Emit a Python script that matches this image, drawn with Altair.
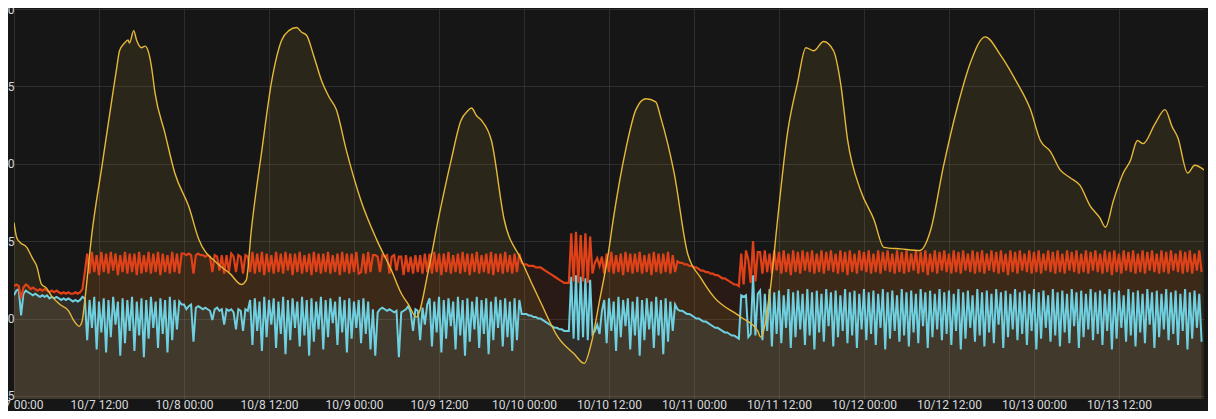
import altair as alt
import pandas as pd

# ---------------- data ----------------
BASE = "2017-10-07 00:00:00"          # left edge of the time axis
STEP_H = 1.0 / 3.0                    # red / cyan samples every 20 minutes
END_H = 168.0                         # right edge: 10/14 00:00

# yellow series: hours since 10/7 00:00 and value
yellow_hours = [0, 0.4, 0.9, 1.8, 2.6, 3.2, 3.9, 4.5, 5.4, 6.5, 7.7, 8.4, 9.2, 9.6, 10.0, 11.0,
                12.4, 13.8, 14.5, 14.9, 15.6, 16.1, 16.3, 16.9, 17.3, 18.0, 18.5, 19.0, 19.4, 19.9,
                21.3, 22.7, 24.7, 26.1, 28.6, 30.5, 32.1, 32.8, 33.5, 35.0, 36.4, 37.8, 38.8, 39.9,
                40.6, 41.3, 42.3, 43.4, 44.5, 45.5, 46.9, 49.0, 51.2, 53.3, 54.7, 55.7, 56.8, 58.5,
                59.9, 61.7, 63.1, 64.0, 64.6, 65.3, 66.0, 67.4, 69.2, 71.6, 74.4, 76.8, 79.1, 80.5,
                81.5, 82.6, 83.9, 84.6, 86.4, 87.8, 89.2, 90.6, 91.3, 93.2, 95.1, 97.0, 98.8, 102.6,
                105.0, 105.4, 106.8, 107.8, 109.2, 110.6, 111.8, 112.9, 114.3, 115.7, 116.7, 117.7,
                119.5, 121.4, 122.8, 125.2, 127.9, 129.4, 131.2, 133.2, 135.0, 137.1, 139.3, 141.4,
                143.5, 144.9, 146.3, 147.7, 149.1, 150.5, 151.9, 153.3, 154.1, 155.2, 156.6, 157.6,
                158.6, 159.4, 161.1, 162.5, 163.5, 164.3, 165.7, 166.7, 168.0]
yellow_values = [16.2, 15.2, 14.9, 14.6, 13.9, 13.4, 12.2, 12.0, 11.4, 10.9, 10.5, 9.9, 9.5, 9.8, 11.2, 15.5,
                 19.8, 24.1, 26.2, 27.3, 27.8, 28.0, 27.8, 28.6, 28.0, 27.5, 27.6, 27.2, 26.3, 24.6,
                 22.0, 19.4, 17.2, 15.1, 13.6, 12.9, 12.2, 12.5, 15.7, 20.9, 25.4, 28.0, 28.6, 28.8,
                 28.5, 28.3, 27.0, 25.4, 24.3, 23.5, 20.9, 17.6, 15.1, 13.1, 11.6, 10.9, 10.1, 13.1,
                 16.4, 20.2, 22.8, 23.4, 23.6, 23.1, 22.8, 21.5, 16.4, 13.8, 11.0, 8.8, 7.7, 7.1,
                 8.4, 11.0, 14.2, 16.4, 21.0, 23.5, 24.2, 24.0, 23.0, 19.4, 14.2, 12.6, 11.4, 10.1,
                 9.2, 8.8, 12.0, 16.4, 22.0, 25.2, 27.5, 27.3, 27.9, 27.3, 25.2, 21.5,
                 18.3, 16.4, 14.6, 14.5, 14.4, 15.7, 19.8, 23.7, 26.5, 28.2, 27.0, 25.4,
                 23.5, 21.5, 20.8, 19.6, 19.1, 18.6, 17.3, 16.5, 15.9, 17.6, 19.4, 20.2,
                 21.5, 21.3, 22.6, 23.5, 22.4, 21.7, 19.4, 19.9, 19.6]

# segment start hours shared by the red and cyan series (20-minute samples inside each)
seg_starts = [0, 10, 23.67, 33.33, 50.67, 58.67, 72, 78.67, 82, 83.33, 93.67, 102.67, 105.33]

red_a = [12.1, 12.2, 12.1, 11.3, 12.0, 12.2, 12.1, 11.9, 12.0, 11.9, 11.8, 11.9, 11.8, 11.9, 11.8,
         11.7, 11.8, 11.7, 11.8, 11.7, 11.6, 11.7, 11.6, 11.7, 11.6, 11.6, 11.7, 11.6, 11.7, 11.9]
red_b = [13.0, 14.2, 12.9, 14.3, 13.0, 14.1, 12.8, 14.3, 13.0, 14.2, 12.9, 14.3, 13.1, 14.2, 12.8,
         14.1, 13.0, 14.3, 12.9, 14.2, 13.0, 14.2, 12.8, 14.3, 12.9, 14.1, 13.0, 14.3, 12.9, 14.2,
         13.0, 14.3, 12.8, 14.2, 13.0, 14.1, 12.9, 14.3, 13.0, 14.2, 12.9]
red_c = [14.2, 14.2, 14.1, 14.2, 14.1, 12.9, 14.1, 14.2, 14.1, 14.1, 14.0, 14.1, 14.0, 13.0, 14.1,
         14.0, 13.1, 14.1, 12.9, 14.1, 13.0, 14.2, 14.0, 13.0, 14.1, 14.0, 12.9, 14.1, 14.0]
red_d = [13.0, 14.3, 12.9, 14.2, 13.0, 14.3, 12.8, 14.2, 13.0, 14.1, 12.9, 14.3, 13.0, 14.2, 12.9,
         14.3, 13.1, 14.2, 12.8, 14.2, 13.0, 14.3, 12.9, 14.1, 13.0, 14.2, 12.8, 14.3, 13.0, 14.2,
         12.9, 14.2, 13.0, 14.3, 12.9, 14.1, 13.0, 14.2, 12.8, 14.3, 13.0, 14.2, 12.9, 14.2, 13.0,
         14.3, 12.9, 13.0, 14.2, 12.9, 14.3, 13.0]
red_e = [14.1, 14.1, 14.0, 13.0, 14.1, 14.0, 14.1, 12.9, 14.0, 14.1, 13.1, 14.0, 14.0, 12.8, 14.1,
         13.0, 14.0, 12.9, 14.1, 13.0, 14.1, 12.9, 14.2, 13.0]
red_f = [14.2, 12.9, 14.3, 13.0, 14.2, 12.8, 14.2, 13.0, 14.3, 12.9, 14.1, 13.0, 14.2, 12.9, 14.3,
         13.0, 14.2, 12.8, 14.2, 13.0, 14.3, 12.9, 14.1, 13.0, 14.2, 12.9, 14.3, 12.8, 14.2, 13.0,
         14.2, 12.9, 14.3, 13.0, 14.1, 12.9, 14.2, 13.0, 14.2, 13.6]
red_g = [13.5, 13.5, 13.4, 13.4, 13.4, 13.3, 13.3, 13.3, 13.2, 13.1, 13.0, 12.9, 12.8, 12.7, 12.6,
         12.5, 12.4, 12.3, 12.3, 12.3]
red_h = [15.5, 12.4, 15.6, 12.3, 15.4, 12.4, 15.5, 12.3, 15.3, 12.9]
red_i = [13.6, 13.9, 13.4, 14.0]
red_j = [12.9, 14.2, 13.0, 14.3, 12.9, 14.1, 13.0, 14.2, 12.8, 14.3, 13.0, 14.2, 12.9, 14.2, 13.0,
         14.3, 12.9, 14.1, 13.0, 14.2, 12.8, 14.3, 13.0, 14.2, 12.9, 14.2, 13.0, 14.3, 12.9, 14.1, 13.0]
red_k = [13.7, 13.6, 13.6, 13.5, 13.5, 13.4, 13.4, 13.3, 13.3, 13.2, 13.1, 13.1, 13.0, 13.0, 12.9,
         12.9, 12.8, 12.8, 12.7, 12.6, 12.6, 12.5, 12.4, 12.3, 12.2, 12.2, 12.1]
red_l = [14.2, 12.2, 14.4, 13.8, 12.3, 15.0, 12.4, 14.3]
red_m = [14.3, 12.9, 14.4, 13.0, 14.2, 12.9, 14.4, 13.1, 14.3, 12.9, 14.4, 13.0, 14.2, 12.8, 14.4, 13.0, 14.3, 12.9, 14.4, 13.1,
         14.3, 13.0, 14.4, 12.9, 14.2, 13.0, 14.4, 12.9, 14.3, 13.1, 14.4, 13.0, 14.2, 12.9, 14.4, 13.0, 14.3, 12.8, 14.4, 13.0,
         14.2, 12.9, 14.4, 13.1, 14.3, 13.0, 14.4, 12.9, 14.2, 13.0, 14.4, 12.9, 14.3, 13.1, 14.4, 13.0, 14.2, 12.9, 14.4, 13.0,
         14.3, 12.9, 14.4, 13.0, 14.2, 13.1, 14.4, 12.9, 14.3, 13.0, 14.4, 12.8, 14.2, 13.0, 14.4, 12.9, 14.3, 13.1, 14.4, 13.0,
         14.2, 12.9, 14.4, 13.0, 14.3, 12.9, 14.4, 13.1, 14.2, 13.0, 14.4, 12.9, 14.3, 13.0, 14.4, 12.9, 14.2, 13.1, 14.4, 13.0,
         14.3, 12.9, 14.4, 13.0, 14.2, 12.8, 14.4, 13.0, 14.3, 12.9, 14.4, 13.1, 14.2, 13.0, 14.4, 12.9, 14.3, 13.0, 14.4, 12.9,
         14.2, 13.1, 14.4, 13.0, 14.3, 12.9, 14.4, 13.0, 14.2, 12.9, 14.4, 13.1, 14.3, 13.0, 14.4, 12.9, 14.2, 13.0, 14.4, 12.9,
         14.3, 13.1, 14.4, 13.0, 14.2, 12.9, 14.4, 13.0, 14.3, 12.8, 14.4, 13.0, 14.2, 12.9, 14.4, 13.1, 14.3, 13.0, 14.4, 12.9,
         14.2, 13.0, 14.4, 12.9, 14.3, 13.1, 14.4, 13.0, 14.2, 12.9, 14.4, 13.0, 14.3, 12.9, 14.4, 13.1, 14.2, 13.0, 14.4, 12.9,
         14.3, 13.0, 14.4, 12.9, 14.2, 13.1, 14.4, 13.0]

cyan_a = [11.5, 11.8, 11.9, 10.2, 11.6, 11.8, 11.7, 11.6, 11.5, 11.6, 11.5, 11.4, 11.5, 11.4, 11.5,
          11.3, 11.4, 11.3, 11.4, 11.3, 11.2, 11.3, 11.2, 11.3, 11.2, 11.1, 11.2, 11.1, 11.2, 11.4]
cyan_b = [11.3, 8.6, 11.2, 9.4, 11.4, 8.0, 11.1, 9.1, 11.3, 7.8, 11.2, 8.8, 11.4, 9.6, 11.1, 7.6,
          11.3, 8.4, 11.2, 9.2, 11.4, 7.9, 11.1, 8.9, 11.3, 7.5, 11.2, 8.7, 11.4, 9.4, 11.1, 8.1,
          11.3, 9.0, 11.2, 7.8, 11.4, 8.6, 11.2, 9.3, 11.1]
cyan_c = [10.9, 10.9, 10.6, 10.8, 10.9, 8.5, 10.7, 10.8, 10.7, 10.6, 10.7, 10.6, 10.5, 9.9, 10.6,
          10.7, 10.5, 10.6, 9.6, 10.6, 10.5, 10.6, 10.4, 9.3, 10.6, 10.5, 9.2, 10.6, 10.5]
cyan_d = [11.2, 8.3, 11.3, 9.2, 11.1, 7.9, 11.4, 8.8, 11.2, 9.6, 11.3, 8.1, 11.1, 9.0, 11.4, 7.7,
          11.2, 8.6, 11.3, 9.4, 11.1, 8.2, 11.4, 8.9, 11.2, 7.6, 11.3, 8.5, 11.1, 9.3, 11.4, 8.0,
          11.2, 8.8, 11.3, 9.7, 11.1, 8.3, 11.4, 9.1, 11.2, 7.8, 11.3, 8.7, 11.1, 9.4, 11.2, 8.4,
          11.3, 9.0, 11.1, 8.0]
cyan_e = [10.6, 7.6, 10.4, 10.6, 10.7, 10.6, 10.5, 10.6, 10.5, 10.4, 10.5, 7.5, 10.4, 10.5, 10.6,
          10.8, 10.4, 9.2, 10.6, 10.5, 8.6, 10.7, 9.6, 10.9]
cyan_f = [11.3, 8.2, 11.1, 9.1, 11.4, 7.8, 11.2, 8.7, 11.3, 9.5, 11.1, 8.0, 11.4, 8.9, 11.2, 7.6,
          11.3, 8.5, 11.1, 9.3, 11.4, 8.1, 11.2, 9.0, 11.3, 7.7, 11.1, 8.6, 11.4, 9.4, 11.2, 8.2,
          11.3, 8.8, 11.1, 7.9, 11.3, 8.6, 11.2, 10.3]
cyan_g = [10.3, 10.3, 10.2, 10.2, 10.1, 10.1, 10.0, 10.0, 9.9, 9.8, 9.7, 9.6, 9.5, 9.4, 9.4,
          9.3, 9.3, 9.2, 9.2, 9.2]
cyan_h = [12.7, 8.7, 12.8, 8.6, 12.7, 8.8, 12.6, 8.6, 12.5, 9.0]
cyan_i = [9.2, 9.6, 9.0, 10.5]
cyan_j = [11.2, 8.4, 11.3, 9.2, 11.1, 7.9, 11.4, 8.8, 11.2, 9.5, 11.3, 8.0, 11.1, 8.9, 11.4, 7.6,
          11.2, 8.6, 11.3, 9.3, 11.1, 8.1, 11.4, 8.9, 11.2, 7.7, 11.3, 8.5, 11.1, 9.2, 10.9]
cyan_k = [10.6, 10.5, 10.5, 10.4, 10.3, 10.3, 10.2, 10.1, 10.0, 10.0, 9.9, 9.8, 9.8, 9.7, 9.6,
          9.5, 9.4, 9.4, 9.3, 9.2, 9.1, 9.1, 9.0, 8.9, 8.9, 8.8, 8.7]
cyan_l = [11.5, 11.4, 11.5, 8.8, 9.0, 12.8, 8.9, 11.6]
cyan_m = [11.8, 8.6, 11.6, 9.2, 11.9, 8.2, 11.7, 9.0, 11.8, 8.4, 11.5, 9.4, 11.9, 8.1, 11.7, 8.8, 11.8, 9.3, 11.6, 8.3,
          11.9, 8.9, 11.7, 8.0, 11.8, 9.1, 11.6, 8.5, 11.9, 9.5, 11.7, 8.2, 11.8, 8.8, 11.5, 9.2, 11.9, 8.4, 11.7, 8.9,
          11.8, 8.1, 11.6, 9.3, 11.9, 8.6, 11.7, 9.0, 11.8, 8.3, 11.6, 9.4, 11.9, 8.0, 11.7, 8.7, 11.8, 9.2, 11.5, 8.5,
          11.9, 8.9, 11.7, 8.2, 11.8, 9.1, 11.6, 8.4, 11.9, 9.5, 11.7, 8.1, 11.8, 8.8, 11.6, 9.3, 11.9, 8.6, 11.7, 9.0,
          11.8, 8.3, 11.6, 9.2, 11.9, 8.0, 11.7, 8.7, 11.8, 9.4, 11.5, 8.5, 11.9, 8.9, 11.7, 8.2, 11.8, 9.1, 11.6, 8.4,
          11.9, 9.6, 11.7, 8.1, 11.8, 8.8, 11.6, 9.3, 11.9, 8.6, 11.7, 9.0, 11.8, 8.3, 11.6, 9.2, 11.9, 8.0, 11.7, 8.7,
          11.8, 9.4, 11.5, 8.5, 11.9, 8.9, 11.7, 8.2, 11.8, 9.1, 11.6, 8.4, 11.9, 9.5, 11.7, 8.1, 11.8, 8.8, 11.6, 9.3,
          11.9, 8.6, 11.7, 9.0, 11.8, 8.3, 11.6, 9.2, 11.9, 8.0, 11.7, 8.7, 11.8, 9.4, 11.5, 8.5, 11.9, 8.9, 11.7, 8.2,
          11.8, 9.1, 11.6, 8.4, 11.9, 9.6, 11.7, 8.1, 11.8, 8.8, 11.6, 9.3, 11.9, 8.6, 11.7, 9.0, 11.8, 8.3, 11.6, 9.2,
          11.9, 8.0, 11.7, 8.7, 11.8, 9.4, 11.6, 8.5]

red_segments = [red_a, red_b, red_c, red_d, red_e, red_f, red_g, red_h, red_i, red_j, red_k, red_l, red_m]
cyan_segments = [cyan_a, cyan_b, cyan_c, cyan_d, cyan_e, cyan_f, cyan_g, cyan_h, cyan_i, cyan_j, cyan_k, cyan_l, cyan_m]

tick_hours = list(range(0, 168, 12))      # 10/7 00:00 ... 10/13 12:00
y_ticks = [5, 10, 15, 20, 25, 30]

YELLOW = "#E6B83A"
RED = "#DF4118"
CYAN = "#6ED0E0"

# ---------------- helpers ----------------
base_ts = pd.Timestamp(BASE)


def to_iso(hours):
    return (base_ts + pd.to_timedelta(pd.Series(hours, dtype=float), unit="h")).dt.strftime("%Y-%m-%dT%H:%M:%S")


def segmented(starts, segments):
    hrs, vals = [], []
    for k, (s, seg) in enumerate(zip(starts, segments)):
        end = starts[k + 1] if k + 1 < len(starts) else END_H + 1e-6
        for j, v in enumerate(seg):
            h = s + j * STEP_H
            if h < end - 1e-6 and h <= END_H + 1e-6:
                hrs.append(h)
                vals.append(v)
    return pd.DataFrame({"t": to_iso(hrs), "v": vals})


def dt(h):
    return alt.DateTime(year=2017, month=10, date=7 + h // 24, hours=h % 24)


df_yellow = pd.DataFrame({"t": to_iso(yellow_hours), "v": yellow_values})
df_red = segmented(seg_starts, red_segments)
df_cyan = segmented(seg_starts, cyan_segments)

x_enc = alt.X(
    "t:T",
    scale=alt.Scale(domain=[dt(0), dt(168)], nice=False),
    axis=alt.Axis(values=[dt(h) for h in tick_hours], format="%-m/%-d %H:%M",
                  title=None, labelPadding=0, labelOverlap=False, labelFlush=False),
)
y_enc = alt.Y(
    "v:Q",
    scale=alt.Scale(domain=[4.8, 30], nice=False, zero=False),
    axis=alt.Axis(values=y_ticks, title=None, labelPadding=0, labelAlign="right"),
)


def series(df, color, width, interp="linear"):
    area = alt.Chart(df).mark_area(color=color, opacity=0.1, clip=True,
                                   interpolate=interp).encode(x=x_enc, y=y_enc)
    line = alt.Chart(df).mark_line(color=color, strokeWidth=width, clip=True,
                                   interpolate=interp).encode(x=x_enc, y=y_enc)
    return area, line


ya, yl = series(df_yellow, YELLOW, 1.4, "monotone")
ra, rl = series(df_red, RED, 2.2)
ca, cl = series(df_cyan, CYAN, 2.0)

chart = (
    alt.layer(ya, ra, ca, cl, rl, yl)
    .properties(
        width=1190,
        height=390,
        autosize=alt.AutoSizeParams(type="none"),
        padding={"left": 6, "top": 1, "right": 4, "bottom": 12},
        background="#161616",
    )
    .configure_view(stroke=None)
    .configure_axis(
        domain=False,
        ticks=False,
        grid=True,
        gridColor="#ffffff",
        gridOpacity=0.1,
        labelColor="#d8d9da",
        labelFont="Roboto",
        labelFontSize=12,
    )
)

chart.save("out.html", embed_options={"renderer": "svg", "actions": False})
